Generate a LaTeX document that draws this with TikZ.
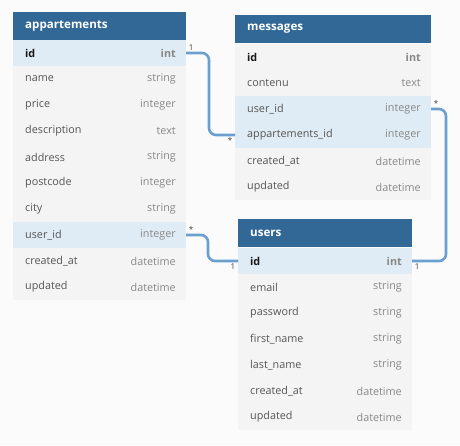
\documentclass[tikz,border=0pt]{standalone}
\usepackage{fontspec}
\setmainfont{Open Sans}
\usetikzlibrary{positioning}
\definecolor{hdrblue}{HTML}{316895}
\definecolor{keyrow}{HTML}{DFECF5}
\definecolor{bodyrow}{HTML}{F4F4F4}
\definecolor{linkblue}{HTML}{6A9FD0}
\definecolor{bggray}{HTML}{FBFBFB}
\definecolor{typegray}{HTML}{888888}
\definecolor{namegray}{HTML}{555555}
\tikzset{
	tblhead/.style={fill=hdrblue,minimum height=28pt,anchor=north west,inner sep=0pt,outer sep=0pt},
	headtext/.style={text=white,font=\fontsize{11.6}{13}\selectfont\bfseries,inner sep=0pt,anchor=west},
	tblrow/.style={minimum height=26pt,anchor=north west,inner sep=0pt,outer sep=0pt},
	fieldname/.style={text=namegray,font=\fontsize{10.8}{12}\selectfont,inner sep=0pt,anchor=west},
	fieldtype/.style={text=typegray,font=\fontsize{10.8}{12}\selectfont,inner sep=0pt,anchor=east},
	link/.style={draw=linkblue,line width=2.6pt,rounded corners=7pt},
	card/.style={text=black!75,font=\fontsize{8}{9}\selectfont,inner sep=1.5pt}
}
\begin{document}
\begin{tikzpicture}[x=1pt,y=-1pt]
	\fill[bggray] (0,0) rectangle (460,445);
	\useasboundingbox (0,0) rectangle (460,445);

	% appartements
	\node[tblhead,minimum width=173pt] (apt) at (13,12) {};
	\node[headtext,right=12pt of apt.west] {appartements};
	\foreach \n/\t/\c [count=\i] in {id/int/keyrow,name/string/bodyrow,price/integer/bodyrow,
		description/text/bodyrow,address/string/bodyrow,postcode/integer/bodyrow,city/string/bodyrow,
		user\_id/integer/keyrow,created\_at/datetime/bodyrow,updated/datetime/bodyrow}{
		\node[tblrow,fill=\c,minimum width=173pt] (apt-\i) at (13,{14+26*\i}) {};
		\node[fieldname,right=12pt of apt-\i.west] {\ifnum\i=1 \bfseries\color{black!90}\fi\n};
		\node[fieldtype,left=10pt of apt-\i.east] {\ifnum\i=1 \bfseries\fi\t};
	}

	% messages
	\node[tblhead,minimum width=196pt] (msg) at (235,15) {};
	\node[headtext,right=12pt of msg.west] {messages};
	\foreach \n/\t/\c [count=\i] in {id/int/bodyrow,contenu/text/bodyrow,user\_id/integer/keyrow,
		appartements\_id/integer/keyrow,created\_at/datetime/bodyrow,updated/datetime/bodyrow}{
		\node[tblrow,fill=\c,minimum width=196pt] (msg-\i) at (235,{18+26*\i}) {};
		\node[fieldname,right=12pt of msg-\i.west] {\ifnum\i=1 \bfseries\color{black!90}\fi\n};
		\node[fieldtype,left=10pt of msg-\i.east] {\ifnum\i=1 \bfseries\fi\t};
	}

	% users
	\node[tblhead,minimum width=174pt] (usr) at (238,219) {};
	\node[headtext,right=12pt of usr.west] {users};
	\foreach \n/\t/\c [count=\i] in {id/int/keyrow,email/string/bodyrow,password/string/bodyrow,
		first\_name/string/bodyrow,last\_name/string/bodyrow,created\_at/datetime/bodyrow,
		updated/datetime/bodyrow}{
		\node[tblrow,fill=\c,minimum width=174pt] (usr-\i) at (238,{222+26*\i}) {};
		\node[fieldname,right=12pt of usr-\i.west] {\ifnum\i=1 \bfseries\color{black!90}\fi\n};
		\node[fieldtype,left=10pt of usr-\i.east] {\ifnum\i=1 \bfseries\fi\t};
	}

	% relations
	\draw[link] (apt-1.east) -- node[card,at start,above right]{1} ++(23,0)
		|- node[card,at end,below left]{*} (msg-4.west);
	\draw[link] (apt-8.east) -- node[card,at start,above right]{*} ++(22,0)
		|- node[card,at end,below left]{1} (usr-1.west);
	\draw[link] (msg-3.east) -- node[card,at start,above right]{*} ++(15,0)
		|- node[card,at end,below right]{1} (usr-1.east);
\end{tikzpicture}
\end{document}
